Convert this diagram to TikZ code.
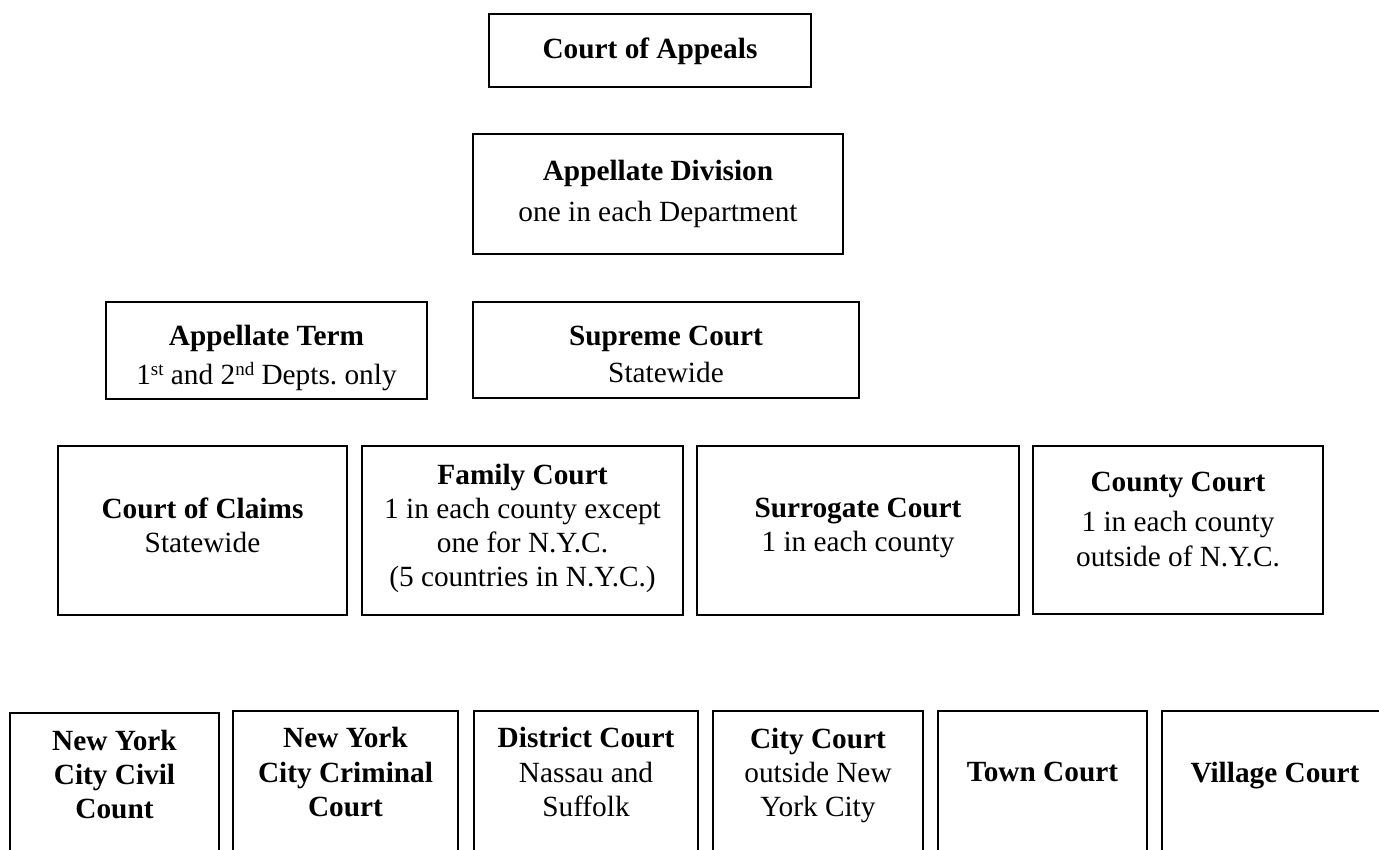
\documentclass[tikz,border=0pt]{standalone}
\usepackage{fontspec}
\setmainfont{Liberation Serif}
\frenchspacing
\begin{document}
\begin{tikzpicture}[x=1pt,y=-1pt,
  courtbox/.style={draw=black, line width=1.8pt, rectangle, inner sep=0pt},
  txt/.style={anchor=north, align=center, inner sep=0pt, font=\fontsize{29.3}{34}\selectfont}]
\useasboundingbox (0,0) rectangle (1379,850);
\clip (0,0) rectangle (1379,850);
\fill[white] (0,0) rectangle (1379,850);
% Row 1
\node[courtbox, minimum width=322pt, minimum height=73pt] (coa) at (650,50.5) {};
\node[txt] (coa-t) at (650,38) {\textbf{Court of Appeals}};
% Row 2
\node[courtbox, minimum width=370pt, minimum height=120pt] (ad) at (658,194) {};
\node[txt] (ad-t) at (658,160) {\textbf{Appellate Division}\\[7pt] one in each Department};
% Row 3
\node[courtbox, minimum width=321pt, minimum height=97pt] (at) at (266.5,350.5) {};
\node[txt] (at-t) at (266.5,325) {\textbf{Appellate Term}\\[5pt] 1{\fontsize{19}{20}\selectfont\raisebox{9pt}{st}} and 2{\fontsize{19}{20}\selectfont\raisebox{9pt}{nd}} Depts. only};
\node[courtbox, minimum width=386pt, minimum height=96pt] (sc) at (666,350) {};
\node[txt] (sc-t) at (666,326) {\textbf{Supreme Court}\\[3pt] Statewide};
% Row 4
\node[courtbox, minimum width=289pt, minimum height=169pt] (coc) at (202.5,530.5) {};
\node[txt] (coc-t) at (202.5,498) {\textbf{Court of Claims}\\ Statewide};
\node[courtbox, minimum width=321pt, minimum height=169pt] (fc) at (522.5,530.5) {};
\node[txt] (fc-t) at (522.5,464) {\textbf{Family Court}\\ 1 in each county except\\ one for N.Y.C.\\ (5 countries in N.Y.C.)};
\node[courtbox, minimum width=322pt, minimum height=169pt] (sur) at (858,530.5) {};
\node[txt] (sur-t) at (858,498) {\textbf{Surrogate Court}\\ 1 in each county};
\node[courtbox, minimum width=290pt, minimum height=168pt] (cty) at (1178,530) {};
\node[txt] (cty-t) at (1178,472) {\textbf{County Court}\\[6pt] 1 in each county\\[1pt] outside of N.Y.C.};
% Row 5
\node[courtbox, minimum width=209pt, minimum height=167pt] (civ) at (114.5,796.5) {};
\node[txt] (civ-t) at (114.5,730) {\textbf{New York}\\ \textbf{City Civil}\\ \textbf{Count}};
\node[courtbox, minimum width=225pt, minimum height=169pt] (crim) at (345.5,795.5) {};
\node[txt] (crim-t) at (345.5,727) {\textbf{New York}\\[1pt] \textbf{City Criminal}\\ \textbf{Court}};
\node[courtbox, minimum width=224pt, minimum height=169pt] (dist) at (586,795.5) {};
\node[txt] (dist-t) at (586,727) {\textbf{District Court}\\[1pt] Nassau and\\ Suffolk};
\node[courtbox, minimum width=210pt, minimum height=169pt] (city) at (818,795.5) {};
\node[txt] (city-t) at (818,728) {\textbf{City Court}\\ outside New\\ York City};
\node[courtbox, minimum width=209pt, minimum height=169pt] (town) at (1042.5,795.5) {};
\node[txt] (town-t) at (1042.5,762) {\textbf{Town Court}};
\node[courtbox, minimum width=233pt, minimum height=169pt] (vil) at (1278.5,795.5) {};
\node[txt] (vil-t) at (1275,762) {\textbf{Village Court}};
\end{tikzpicture}
\end{document}
